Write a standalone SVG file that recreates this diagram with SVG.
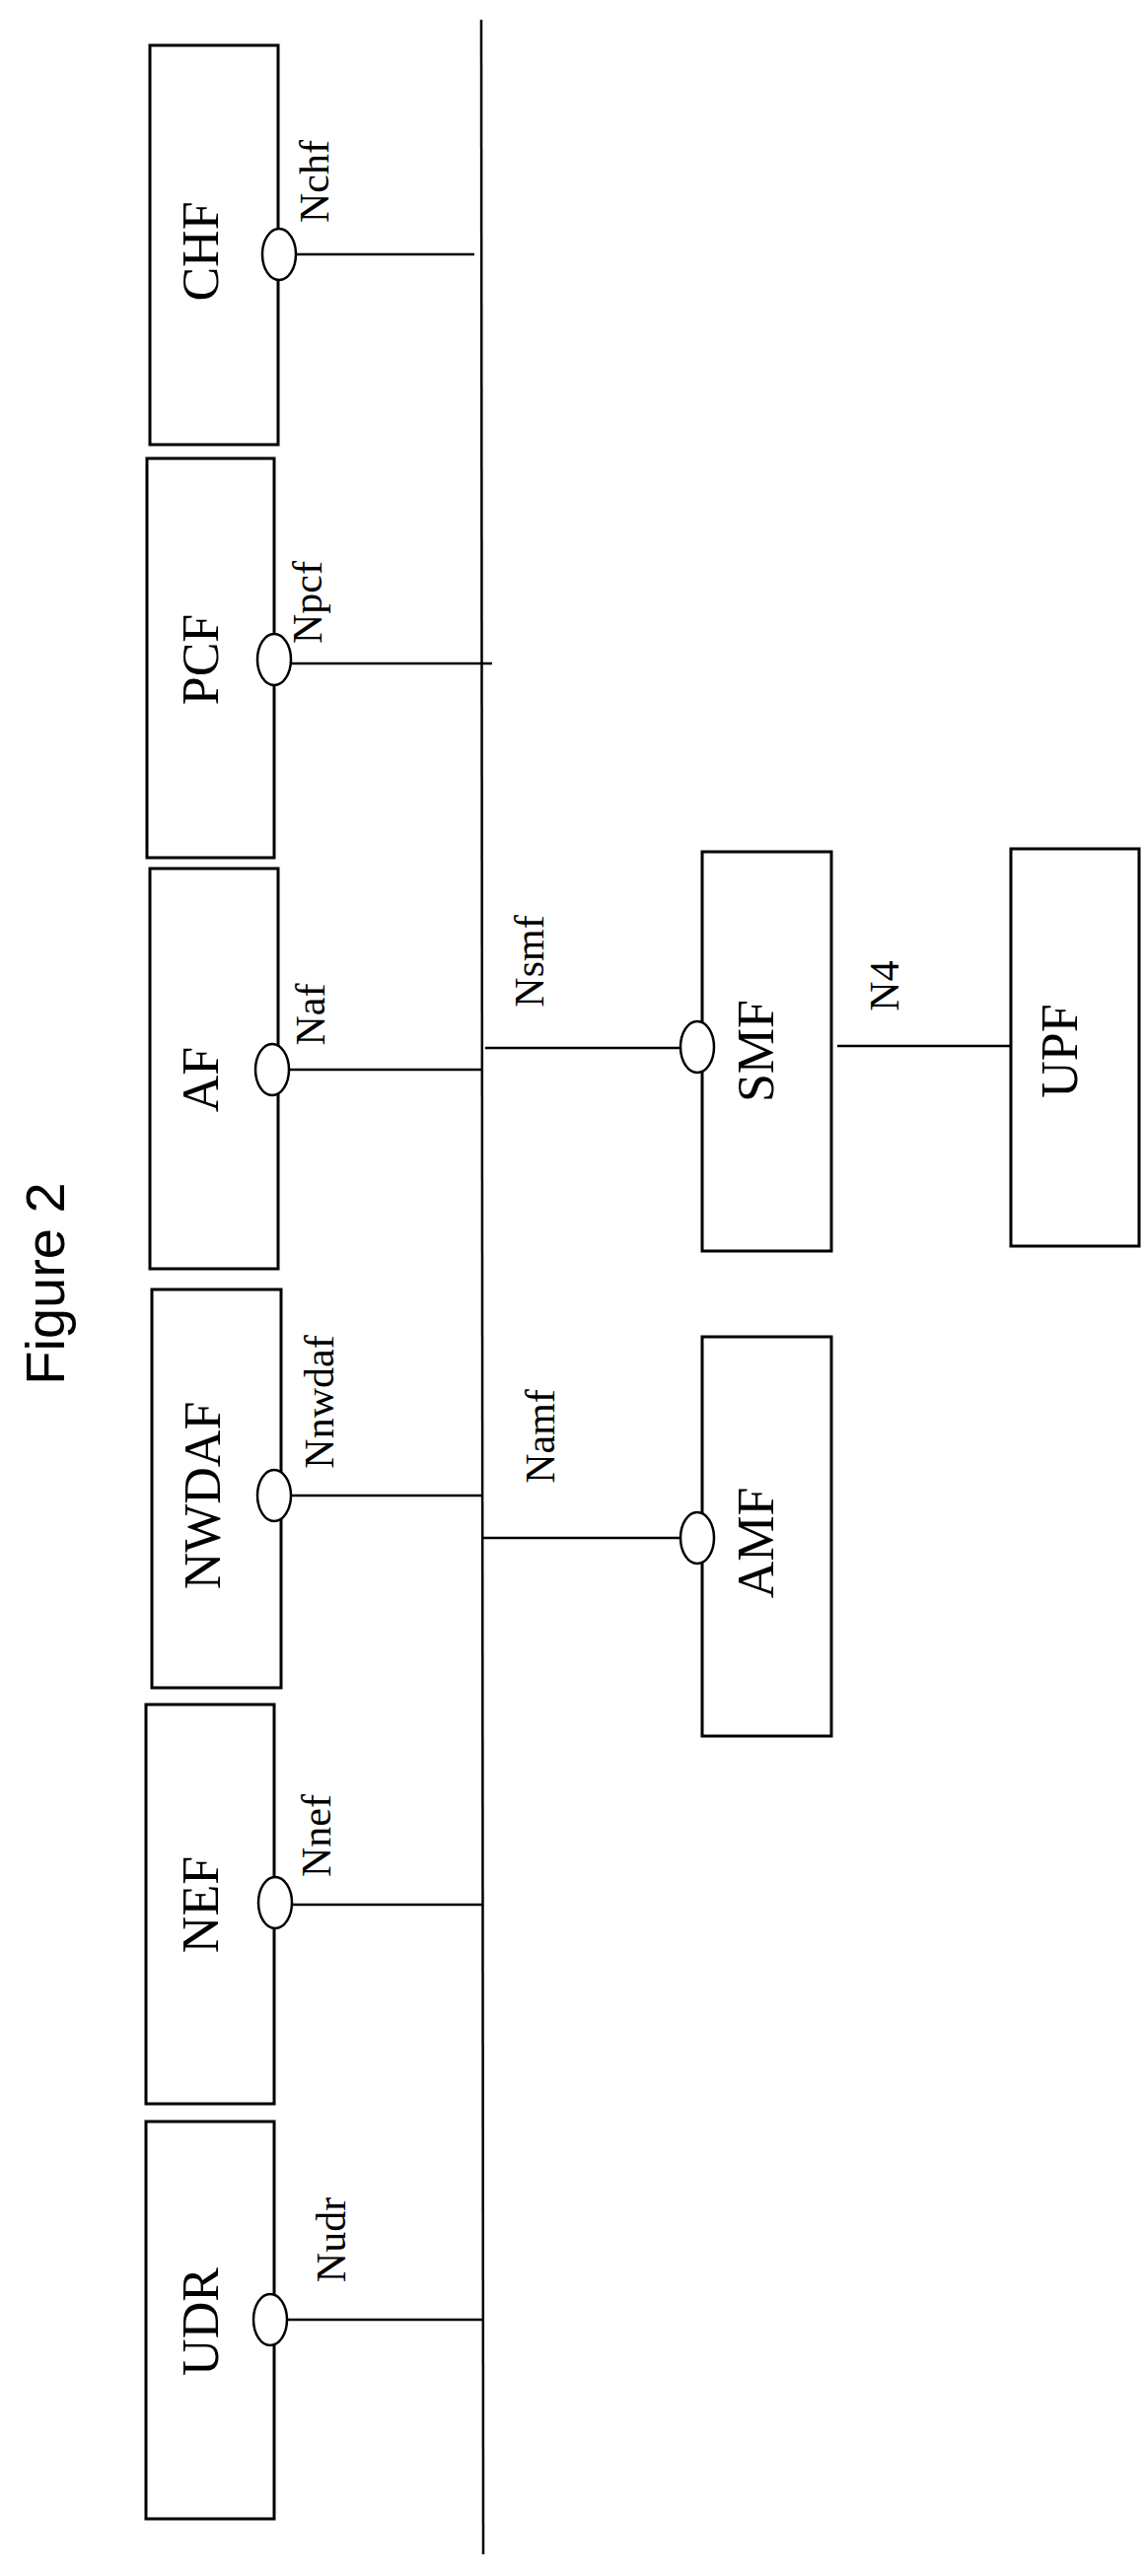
<svg xmlns="http://www.w3.org/2000/svg" width="1161" height="2613" viewBox="0 0 1161 2613">
<style>
.box{fill:#fff;stroke:#000;stroke-width:3}
.ell{fill:#fff;stroke:#000;stroke-width:2.5}
.ln{stroke:#000;stroke-width:2.5;fill:none}
.nt{font-family:"Liberation Serif",serif;font-size:52px;text-anchor:middle;dominant-baseline:central}
.lb{font-family:"Liberation Serif",serif;font-size:42px;text-anchor:middle;dominant-baseline:central}
</style>
<rect width="1161" height="2613" fill="#fff"/>
<text x="45" y="1302" font-family="Liberation Sans,sans-serif" font-size="56" text-anchor="middle" dominant-baseline="central" transform="rotate(-90 45 1302)">Figure 2</text>
<g id="connectors">
<line class="ln" x1="488" y1="20" x2="490" y2="2591"/>
<line class="ln" x1="300" y1="258" x2="481" y2="258"/>
<line class="ln" x1="295" y1="673" x2="499" y2="673"/>
<line class="ln" x1="293" y1="1085" x2="488" y2="1085"/>
<line class="ln" x1="492" y1="1063" x2="691" y2="1063"/>
<line class="ln" x1="849" y1="1061" x2="1033" y2="1061"/>
<line class="ln" x1="295" y1="1517" x2="489" y2="1517"/>
<line class="ln" x1="489" y1="1560" x2="691" y2="1560"/>
<line class="ln" x1="296" y1="1932" x2="490" y2="1932"/>
<line class="ln" x1="291" y1="2353" x2="490" y2="2353"/>
<text class="lb" x="319" y="184" transform="rotate(-90 319 184)">Nchf</text>
<text class="lb" x="312" y="611" transform="rotate(-90 312 611)">Npcf</text>
<text class="lb" x="315" y="1029" transform="rotate(-90 315 1029)">Naf</text>
<text class="lb" x="537" y="975" transform="rotate(-90 537 975)">Nsmf</text>
<text class="lb" x="897" y="1000" transform="rotate(-90 897 1000)">N4</text>
<text class="lb" x="324" y="1422" transform="rotate(-90 324 1422)">Nnwdaf</text>
<text class="lb" x="548" y="1457" transform="rotate(-90 548 1457)">Namf</text>
<text class="lb" x="321" y="1862" transform="rotate(-90 321 1862)">Nnef</text>
<text class="lb" x="336" y="2272" transform="rotate(-90 336 2272)">Nudr</text>
</g>
<g id="CHF"><rect class="box" x="152" y="46" width="130" height="405"/><ellipse class="ell" cx="283" cy="258" rx="17" ry="26"/><text class="nt" x="203" y="255" transform="rotate(-90 203 255)">CHF</text></g>
<g id="PCF"><rect class="box" x="149" y="465" width="129" height="405"/><ellipse class="ell" cx="278" cy="669" rx="17" ry="26"/><text class="nt" x="203" y="669" transform="rotate(-90 203 669)">PCF</text></g>
<g id="AF"><rect class="box" x="152" y="881" width="130" height="406"/><ellipse class="ell" cx="276" cy="1085" rx="17" ry="26"/><text class="nt" x="203" y="1095" transform="rotate(-90 203 1095)">AF</text></g>
<g id="SMF"><rect class="box" x="712" y="864" width="131" height="405"/><ellipse class="ell" cx="707" cy="1062" rx="17" ry="26"/><text class="nt" x="766" y="1066" transform="rotate(-90 766 1066)">SMF</text></g>
<g id="UPF"><rect class="box" x="1025" y="861" width="130" height="403"/><text class="nt" x="1074" y="1066" transform="rotate(-90 1074 1066)">UPF</text></g>
<g id="NWDAF"><rect class="box" x="154" y="1308" width="131" height="404"/><ellipse class="ell" cx="278" cy="1517" rx="17" ry="26"/><text class="nt" x="205" y="1517" transform="rotate(-90 205 1517)">NWDAF</text></g>
<g id="AMF"><rect class="box" x="712" y="1356" width="131" height="405"/><ellipse class="ell" cx="707" cy="1560" rx="17" ry="26"/><text class="nt" x="766" y="1565" transform="rotate(-90 766 1565)">AMF</text></g>
<g id="NEF"><rect class="box" x="148" y="1729" width="130" height="405"/><ellipse class="ell" cx="279" cy="1930" rx="17" ry="26"/><text class="nt" x="203" y="1932" transform="rotate(-90 203 1932)">NEF</text></g>
<g id="UDR"><rect class="box" x="148" y="2152" width="130" height="403"/><ellipse class="ell" cx="274" cy="2353" rx="17" ry="26"/><text class="nt" x="203" y="2355" transform="rotate(-90 203 2355)">UDR</text></g>
</svg>
